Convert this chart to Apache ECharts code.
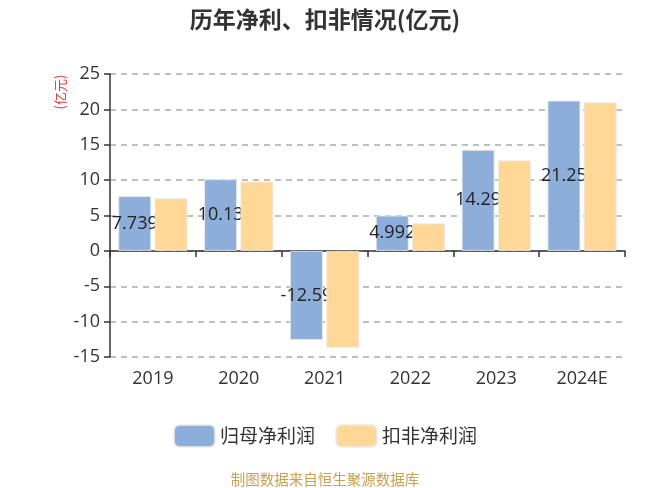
<!DOCTYPE html>
<html>
<head>
<meta charset="utf-8">
<script src="https://cdn.jsdelivr.net/npm/echarts@6/dist/echarts.min.js"></script>
<style>html,body{margin:0;padding:0;background:#fff}#c{width:650px;height:488px}</style>
</head>
<body>
<div id="c"></div>
<script>
var categories = ['2019', '2020', '2021', '2022', '2023', '2024E'];
var netProfit = [7.739, 10.13, -12.59, 4.992, 14.29, 21.25];
var deductedProfit = [7.45, 9.8, -13.7, 3.9, 12.8, 21.0];
var seriesNames = ['归母净利润', '扣非净利润'];
var titleText = '历年净利、扣非情况(亿元)';
var unitText = '(亿元)';
var sourceText = '制图数据来自恒生聚源数据库';

var font = '"Open Sans", "Noto Sans CJK SC", sans-serif';
var cjk = '"Noto Sans CJK SC", "Noto Sans", sans-serif';
var chart = echarts.init(document.getElementById('c'));
chart.setOption({
  animation: false,
  textStyle: { fontFamily: font },
  title: {
    text: titleText, left: 'center', top: 3,
    textStyle: { fontSize: 23, fontWeight: 'bold', color: '#333', fontFamily: cjk }
  },
  legend: {
    data: seriesNames, top: 419, left: 'center',
    itemWidth: 41, itemHeight: 22, itemGap: 20,
    textStyle: { fontSize: 19, color: '#333', fontFamily: cjk }
  },
  grid: { left: 110, right: 25, top: 74, bottom: 131, outerBoundsMode: 'none', containLabel: false },
  xAxis: {
    type: 'category', data: categories,
    axisLine: { onZero: true, lineStyle: { color: '#333', width: 1.5 } },
    axisTick: { show: true, length: 6, lineStyle: { color: '#333', width: 1.5 } },
    axisLabel: { margin: 13, fontSize: 18, color: '#333', fontFamily: font }
  },
  yAxis: {
    type: 'value', min: -15, max: 25, interval: 5,
    axisLine: { show: true, lineStyle: { color: '#333', width: 1.5 } },
    axisTick: { show: true, length: 6, lineStyle: { color: '#333', width: 1.5 } },
    axisLabel: { margin: 10, fontSize: 18, color: '#333', fontFamily: font },
    splitLine: { show: true, lineStyle: { color: '#aaa', type: [6, 5], width: 1.5 } }
  },
  graphic: [
    {
      type: 'text', x: 60, y: 92, rotation: Math.PI / 2,
      style: { text: unitText, fill: '#e33', font: '13px ' + cjk, textAlign: 'center', textVerticalAlign: 'middle' }
    },
    {
      type: 'text', x: 325, y: 479,
      style: { text: sourceText, fill: '#C9A04E', font: '14.5px ' + cjk, textAlign: 'center', textVerticalAlign: 'middle' }
    }
  ],
  series: [
    {
      name: seriesNames[0], type: 'bar', data: netProfit,
      barWidth: 33, barGap: '10%', z: 2,
      itemStyle: { color: '#8DAEDB', borderColor: 'rgba(235,235,235,0.8)', borderWidth: 1 },
      label: { show: true, position: 'inside', fontSize: 18, color: '#222', fontFamily: font }
    },
    {
      name: seriesNames[1], type: 'bar', data: deductedProfit,
      barWidth: 33, barGap: '10%', z: 3,
      itemStyle: { color: '#FFD898', borderColor: 'rgba(235,235,235,0.8)', borderWidth: 1 }
    }
  ]
});
</script>
</body>
</html>
